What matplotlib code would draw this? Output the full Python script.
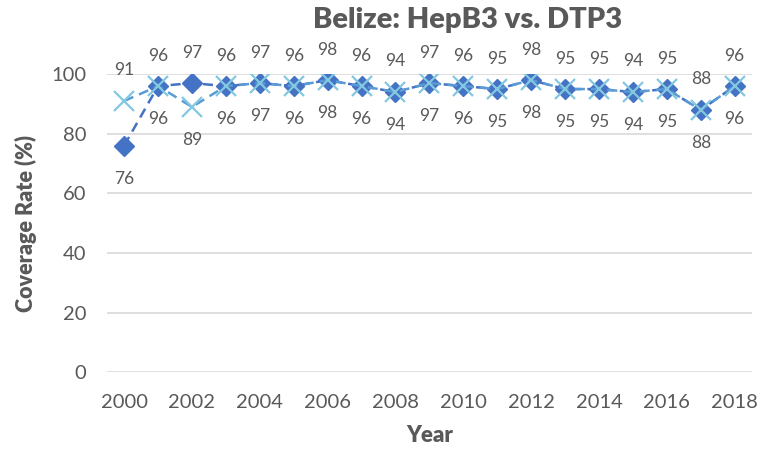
import matplotlib
matplotlib.use('Agg')
import matplotlib.pyplot as plt

# Data
years = list(range(2000, 2019))
hepb3 = [76, 96, 97, 96, 97, 96, 98, 96, 94, 97, 96, 95, 98, 95, 95, 94, 95, 88, 96]
dtp3 = [91, 96, 89, 96, 97, 96, 98, 96, 94, 97, 96, 95, 98, 95, 95, 94, 95, 88, 96]
y_ticks = [0, 20, 40, 60, 80, 100]
x_tick_years = list(range(2000, 2019, 2))

plt.rcParams['font.family'] = ['Lato', 'DejaVu Sans']
text_gray = '#595959'

fig = plt.figure(figsize=(7.6, 4.55), dpi=100)
ax = fig.add_axes([0.141, 0.182, 0.848, 0.655])

# Series lines and markers
ax.plot(years, hepb3, color='#4472C4', linestyle=(0, (4, 2.5)), linewidth=1.8,
        marker='D', markersize=10, markerfacecolor='#4472C4',
        markeredgecolor='#4472C4', label='HepB3', zorder=3)
ax.plot(years, dtp3, color='#5B9BD5', linestyle=(0, (4, 2.5)), linewidth=1.8,
        marker='x', markersize=15, markeredgewidth=1.6,
        markeredgecolor='#82C8E0', label='DTP3', zorder=4)

# Data labels: higher value above, lower value below
for yr, h, d in zip(years, hepb3, dtp3):
    hi, lo = max(h, d), min(h, d)
    ax.annotate(f'{hi}', (yr, hi), xytext=(0, 22), textcoords='offset points',
                ha='center', va='center', fontsize=12.5, color=text_gray)
    ax.annotate(f'{lo}', (yr, lo), xytext=(0, -24), textcoords='offset points',
                ha='center', va='center', fontsize=12.5, color=text_gray)

ax.set_xlim(1999.5, 2018.5)
ax.set_ylim(0, 100)
ax.set_yticks(y_ticks)
ax.set_xticks(x_tick_years)
ax.grid(axis='y', color='#D9D9D9', linewidth=1.2)
ax.set_axisbelow(True)
for s in ax.spines.values():
    s.set_visible(False)
ax.tick_params(axis='both', length=0, labelsize=14.5, labelcolor=text_gray)
ax.tick_params(axis='y', pad=15)
ax.tick_params(axis='x', pad=16)

ax.set_xlabel('Year', fontsize=16, fontweight='heavy', color=text_gray, labelpad=10)
ax.set_ylabel('Coverage Rate (%)', fontsize=15.5, fontweight='heavy', color=text_gray, labelpad=10)

fig.text(0.615, 0.955, 'Belize: HepB3 vs. DTP3', ha='center', va='center',
         fontsize=21, fontweight='heavy', color=text_gray)

fig.savefig('out.png', dpi=100)
